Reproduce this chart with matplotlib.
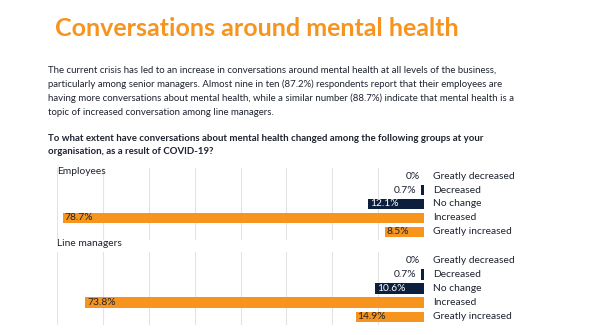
import matplotlib.pyplot as plt

plt.rcParams['font.family'] = ['Lato', 'DejaVu Sans']

ORANGE = '#F7941D'
NAVY = '#0C1F3D'
TEXT = '#1E2330'

# survey responses (% of respondents)
responses = ["Greatly decreased", "Decreased", "No change", "Increased", "Greatly increased"]
employees = [0.0, 0.7, 12.1, 78.7, 8.5]
line_managers = [0.0, 0.7, 10.6, 73.8, 14.9]
bar_colors = [NAVY, NAVY, NAVY, ORANGE, ORANGE]
groups = ["Employees", "Line managers"]

title = "Conversations around mental health"
intro = ("The current crisis has led to an increase in conversations around mental health at all levels of the business,\n"
         "particularly among senior managers. Almost nine in ten (87.2%) respondents report that their employees are\n"
         "having more conversations about mental health, while a similar number (88.7%) indicate that mental health is a\n"
         "topic of increased conversation among line managers.")
question = ("To what extent have conversations about mental health changed among the following groups at your\n"
            "organisation, as a result of COVID-19?")

W, H = 595, 335
fig = plt.figure(figsize=(W / 100, H / 100), dpi=100)


def px(x, y):
    return x / W, 1 - y / H


fig.text(*px(55, 28), title, fontsize=18, fontweight='bold', color=ORANGE, va='center', ha='left')
fig.text(*px(48, 65.5), intro, fontsize=6.95, color=TEXT, va='top', ha='left', linespacing=1.65)
fig.text(*px(48, 133.5), question, fontsize=6.95, fontweight='bold', color=TEXT, va='top', ha='left',
         linespacing=1.65)


def draw_group(top, bottom, values, name, label_y):
    left, right = 57, 424
    ax = fig.add_axes([left / W, 1 - bottom / H, (right - left) / W, (bottom - top) / H])
    rows = list(range(len(values)))
    ax.barh(rows, values, height=0.72, color=bar_colors, zorder=2)
    ax.set_xlim(80, 0)
    ax.set_ylim(4.6, -0.6)
    for gx in range(10, 90, 10):
        ax.axvline(gx, color='#E4E4E4', lw=0.8, zorder=1)
    for i, v in enumerate(values):
        lbl = f"{v:g}%"
        if v > 5:
            c = 'white' if bar_colors[i] == NAVY else TEXT
            ax.text(v - 0.4, i, lbl, ha='left', va='center', fontsize=7.4, color=c, zorder=3)
        else:
            ax.text(v + 0.9, i, lbl, ha='right', va='center', fontsize=7.4, color=TEXT, zorder=3)
        ax.text(-2, i, responses[i], ha='left', va='center', fontsize=7.4, color=TEXT,
                clip_on=False)
    ax.axis('off')
    fig.text(*px(57, label_y), name, fontsize=7.4, color=TEXT, va='center', ha='left')


draw_group(168, 240, employees, groups[0], 171)
draw_group(252, 325, line_managers, groups[1], 244)

fig.savefig('out.png', dpi=100)
